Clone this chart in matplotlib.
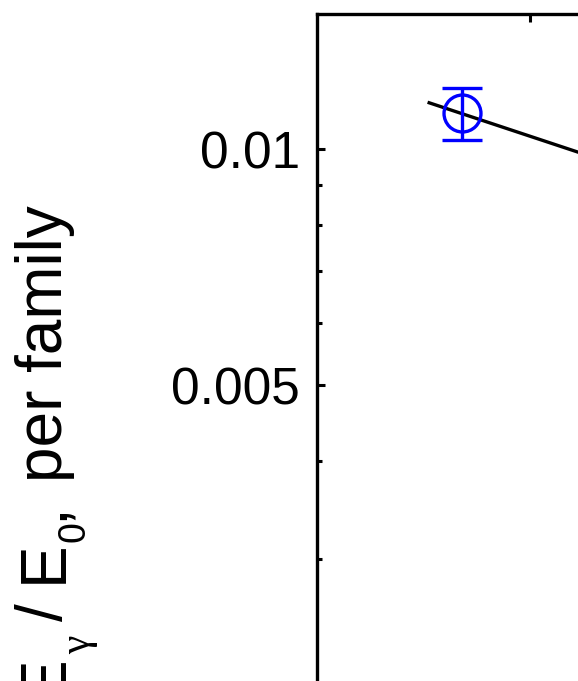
import matplotlib
matplotlib.use("Agg")
import matplotlib.pyplot as plt
from matplotlib.ticker import FixedLocator, NullFormatter

plt.rcParams["font.family"] = ["Liberation Sans", "DejaVu Sans"]

# measured point with its error bar
point_x = [6.8]
point_y = [0.01113]
err_lo = [0.01113 - 0.01027]
err_hi = [0.01196 - 0.01113]

# fitted trend
fit_x = [5.2, 13.0]
fit_y = [0.01148, 0.00976]

yticks = [0.005, 0.01]
ytick_labels = ["0.005", "0.01"]
xticks = [10, 20]

fig = plt.figure(figsize=(5.78, 6.81), dpi=100)
W, H = 578.0, 681.0
# axes is larger than the figure: only its upper-left corner shows
left, top = 316.5, 13.5
ax_w, ax_h = 534.0, 701.0
ax = fig.add_axes([left / W, 1 - (top + ax_h) / H, ax_w / W, ax_h / H])

ax.plot(fit_x, fit_y, color="black", lw=2.4, solid_capstyle="butt")
ax.errorbar(point_x, point_y, yerr=[err_lo, err_hi], fmt="o", ms=26.6,
            mfc="none", mec="blue", mew=2.4, ecolor="blue", elinewidth=2.4,
            capsize=14.4, capthick=2.4)

ax.set_yscale("log")
ax.set_ylim(0.0019, 0.0149)
ax.set_xlim(0, 25)

ax.yaxis.set_major_locator(FixedLocator(yticks))
ax.set_yticklabels(ytick_labels)
ax.yaxis.set_minor_locator(FixedLocator([0.002, 0.003, 0.004, 0.006, 0.007,
                                          0.008, 0.009]))
ax.yaxis.set_minor_formatter(NullFormatter())
ax.set_xticks(xticks)
ax.set_xticklabels([])

ax.tick_params(which="both", direction="in", top=True, right=True,
               width=2.2, labelsize=37, pad=12)
ax.tick_params(which="major", length=5.5)
ax.tick_params(which="minor", length=3.5)
for s in ax.spines.values():
    s.set_linewidth(2.4)


# y label written piece by piece so the subscripts sit low like the original
def label_piece(s, base_x, y, ha, size, family=None):
    kw = dict(rotation=90, rotation_mode="anchor", ha=ha, va="baseline",
              fontsize=size)
    if family:
        kw["family"] = family
    fig.text(base_x / W, 1 - y / H, s, **kw)


label_piece("E", 62, 676, "center", 46)
label_piece("\u03b3", 89, 645, "center", 30, family="Liberation Serif")
label_piece("/", 62, 612, "center", 46)
label_piece("E", 62, 562, "center", 46)
label_piece("0", 85, 532, "center", 27)
label_piece(",", 62, 511, "center", 46)
label_piece("per family", 62, 205, "right", 46)

fig.savefig("out.png", dpi=100)
